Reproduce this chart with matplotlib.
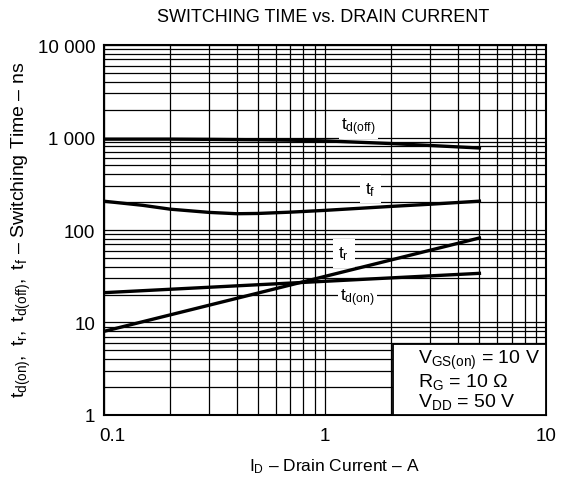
import matplotlib
matplotlib.use('Agg')
import matplotlib.pyplot as plt
import matplotlib.transforms as mtransforms
from matplotlib.ticker import FixedLocator, LogLocator, NullFormatter

plt.rcParams['font.family'] = ['Liberation Sans', 'DejaVu Sans']
plt.rcParams['mathtext.fontset'] = 'custom'
plt.rcParams['mathtext.rm'] = 'Liberation Sans'
plt.rcParams['mathtext.it'] = 'Liberation Sans'

# drain current (A) and switching times (ns)
id_off = [0.1, 0.2, 0.3, 0.5, 0.7, 1.0, 2.0, 3.0, 5.0]
td_off = [960, 960, 955, 945, 935, 920, 860, 820, 770]

id_f = [0.1, 0.15, 0.2, 0.3, 0.4, 0.5, 0.7, 1.0, 2.0, 3.0, 5.0]
tf = [205, 185, 168, 155, 150, 151, 156, 163, 180, 190, 205]

id_r = [0.1, 5.0]
tr = [8, 82]

id_on = [0.1, 5.0]
td_on = [21, 34]

yticks = [1, 10, 100, 1000, 10000]
ytick_labels = ['1', '10', '100', '1 000', '10 000']
xticks = [0.1, 1, 10]
xtick_labels = ['0.1', '1', '10']

fig = plt.figure(figsize=(5.66, 4.89), dpi=100)
ax = fig.add_axes([0.1829, 0.1493, 0.9647 - 0.1829, 0.9059 - 0.1493])

ax.set_xscale('log')
ax.set_yscale('log')
ax.set_xlim(0.1, 10)
ax.set_ylim(1, 10000)

ax.xaxis.set_major_locator(FixedLocator(xticks))
ax.yaxis.set_major_locator(FixedLocator(yticks))
ax.xaxis.set_minor_locator(LogLocator(base=10, subs=range(2, 10)))
ax.yaxis.set_minor_locator(LogLocator(base=10, subs=range(2, 10)))
ax.xaxis.set_minor_formatter(NullFormatter())
ax.yaxis.set_minor_formatter(NullFormatter())
ax.set_xticklabels(xtick_labels)
ax.set_yticklabels(ytick_labels)
ax.tick_params(which='both', length=0, labelsize=13.5, colors='black')
ax.tick_params(axis='x', pad=9)
ax.tick_params(axis='y', pad=6)

# the 0.1 label sits a little to the right in the original
lab = ax.get_xticklabels()[0]
lab.set_transform(lab.get_transform() +
                  mtransforms.ScaledTranslation(9 / 100, 0, fig.dpi_scale_trans))

ax.grid(True, which='both', color='black', linewidth=0.9)
ax.set_axisbelow(True)
for s in ax.spines.values():
    s.set_linewidth(1.5)

lw = 2.4
ax.plot(id_off, td_off, color='black', linewidth=lw, zorder=3)
ax.plot(id_f, tf, color='black', linewidth=lw, zorder=3)
ax.plot(id_r, tr, color='black', linewidth=lw, zorder=3)
ax.plot(id_on, td_on, color='black', linewidth=lw, zorder=3)

bg = dict(facecolor='white', edgecolor='none', pad=1.5)
ax.text(1.42, 1330, r'$\mathregular{t_{d(off)}}$', fontsize=12.5, ha='center', va='center',
        bbox=bg, zorder=2)
ax.text(1.61, 277, r'$\mathregular{t_f}$', fontsize=12.5, ha='center', va='center',
        bbox=dict(facecolor='white', edgecolor='none', pad=4), zorder=2)
ax.text(1.22, 56, r'$\mathregular{t_r}$', fontsize=12.5, ha='center', va='center',
        bbox=dict(facecolor='white', edgecolor='none', pad=4), zorder=2)
ax.text(1.40, 18.9, r'$\mathregular{t_{d(on)}}$', fontsize=12.5, ha='center', va='center',
        bbox=bg, zorder=2)

# conditions box in the lower right corner
cond = (r'$\mathregular{V_{GS(on)}}$ = 10 V' + '\n' +
        r'$\mathregular{R_G}$ = 10 Ω' + '\n' +
        r'$\mathregular{V_{DD}}$ = 50 V')
box_x0 = (392.7 - 103.5) / (546 - 103.5)
box_y1 = (416 - 345) / (416 - 46)
ax.add_patch(plt.Rectangle((box_x0, 0), 1 - box_x0, box_y1, transform=ax.transAxes,
                           facecolor='white', edgecolor='black', linewidth=1.3, zorder=4))
ax.text(box_x0 + 0.057, box_y1 / 2, cond, transform=ax.transAxes, fontsize=14,
        ha='left', va='center', linespacing=1.0, zorder=5)

fig.text(0.571, 0.965, 'SWITCHING TIME vs. DRAIN CURRENT', fontsize=13,
         ha='center', va='center')
fig.text(0.59, 0.045, r'$\mathregular{I_D}$ – Drain Current – A', fontsize=12.5,
         ha='center', va='center')
fig.text(0.037, 0.53, r'$\mathregular{t_{d(on)},\ t_r,\ t_{d(off)},\ t_f}$ – Switching Time – ns',
         fontsize=14, rotation=90, ha='center', va='center')

fig.savefig('out.png', dpi=100)
